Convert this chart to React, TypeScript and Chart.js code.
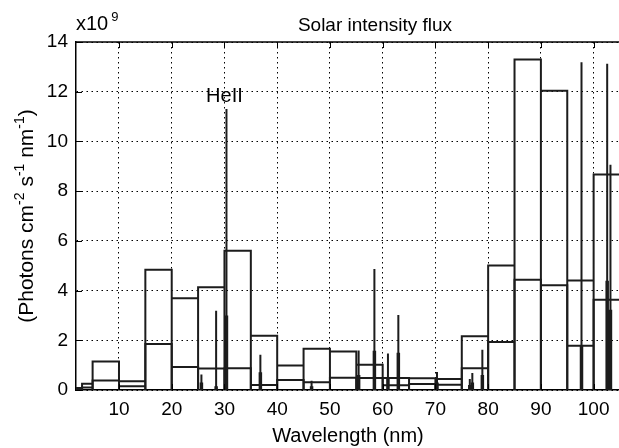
import React, { useEffect, useRef } from "react";
import { Chart, registerables } from "chart.js";

Chart.register(...registerables);

// 5 nm bins (plus two short X-ray bins)
const binLo = [0, 3, 5, 10, 15, 20, 25, 30, 35, 40, 45, 50, 55, 60, 65, 70, 75, 80, 85, 90, 95, 100];
const binHi = [3, 5, 10, 15, 20, 25, 30, 35, 40, 45, 50, 55, 60, 65, 70, 75, 80, 85, 90, 95, 100, 105];
// flux (x1e9 photons cm^-2 s^-1 nm^-1), high and low solar activity
const fluxMax = [0.08, 0.25, 1.15, 0.35, 4.84, 3.69, 4.13, 5.6, 2.18, 0.99, 1.66, 1.55, 1.02, 0.48, 0.47, 0.44, 2.16, 5.01, 13.3, 12.04, 4.41, 8.67];
const fluxMin = [0.03, 0.1, 0.38, 0.15, 1.85, 0.93, 0.86, 0.88, 0.2, 0.4, 0.31, 0.49, 0.48, 0.19, 0.24, 0.21, 0.87, 1.93, 4.44, 4.21, 1.78, 3.63];

// emission lines
const lineNm = [25.63, 28.42, 30.38, 36.81, 46.52, 55.44, 58.43, 61.0, 62.97, 70.3, 76.52, 77.0, 78.9, 97.7, 102.57, 103.19];
const lineMax = [0.62, 3.19, 11.3, 1.42, 0.37, 1.59, 4.87, 1.47, 3.02, 0.72, 0.44, 0.68, 1.62, 13.19, 13.12, 9.06];
const lineMin = [0.3, 0.15, 3.0, 0.71, 0.15, 0.6, 1.58, 0.5, 1.5, 0.3, 0.2, 0.3, 0.6, 1.8, 4.4, 3.23];

const xTicks = [10, 20, 30, 40, 50, 60, 70, 80, 90, 100];
const yTicks = [0, 2, 4, 6, 8, 10, 12, 14];

const titleText = "Solar intensity flux";
const xLabelText = "Wavelength (nm)";
const heLabel = "HeII";
const heLabelNm = 30.38;
const heLabelVal = 11.3;

const FONT = "'Liberation Sans', Arial, Helvetica, sans-serif";
const INK = "#1c1c1c";

function binPath(vals: number[]) {
  const pts: { x: number; y: number | null }[] = [];
  for (let i = 0; i < vals.length; i++) {
    pts.push({ x: binLo[i], y: 0 }, { x: binLo[i], y: vals[i] }, { x: binHi[i], y: vals[i] }, { x: binHi[i], y: 0 });
  }
  return pts;
}

function linePath(vals: number[]) {
  const pts: { x: number; y: number | null }[] = [];
  for (let i = 0; i < vals.length; i++) {
    pts.push({ x: lineNm[i], y: 0 }, { x: lineNm[i], y: vals[i] }, { x: lineNm[i], y: null });
  }
  return pts;
}

const decorPlugin = {
  id: "decor",
  afterDatasetsDraw(chart: any) {
    const { ctx, chartArea } = chart;
    const xs = chart.scales.x;
    const ys = chart.scales.y;
    ctx.save();
    ctx.strokeStyle = "#000";
    ctx.lineWidth = 1.5;
    ctx.beginPath();
    ctx.moveTo(chartArea.left, chartArea.top);
    ctx.lineTo(chartArea.right, chartArea.top);
    ctx.stroke();
    ctx.lineWidth = 1;
    ctx.beginPath();
    for (const t of xTicks) {
      const px = Math.round(xs.getPixelForValue(t)) + 0.5;
      ctx.moveTo(px, chartArea.bottom);
      ctx.lineTo(px, chartArea.bottom - 6);
      ctx.moveTo(px, chartArea.top);
      ctx.lineTo(px, chartArea.top + 6);
    }
    for (const t of yTicks) {
      const py = Math.round(ys.getPixelForValue(t)) + 0.5;
      ctx.moveTo(chartArea.left, py);
      ctx.lineTo(chartArea.left + 6, py);
    }
    ctx.stroke();
    ctx.restore();
  },
  afterDraw(chart: any) {
    const { ctx, chartArea } = chart;
    const xs = chart.scales.x;
    const ys = chart.scales.y;
    ctx.save();
    ctx.fillStyle = "#000";
    ctx.textBaseline = "alphabetic";
    ctx.font = `19px ${FONT}`;
    ctx.textAlign = "center";
    ctx.fillText(titleText, 375, 31);
    ctx.font = `20px ${FONT}`;
    ctx.fillText(xLabelText, 348, 442);
    ctx.fillText(heLabel, xs.getPixelForValue(heLabelNm) - 2, ys.getPixelForValue(heLabelVal) - 7);
    ctx.textAlign = "left";
    ctx.font = `20px ${FONT}`;
    ctx.fillText("x10", chartArea.left, 30);
    const w = ctx.measureText("x10").width;
    ctx.font = `13px ${FONT}`;
    ctx.fillText("9", chartArea.left + w + 3, 21);
    const parts: [string, boolean][] = [
      ["(Photons cm", false],
      ["-2", true],
      [" s", false],
      ["-1", true],
      [" nm", false],
      ["-1", true],
      [")", false],
    ];
    const mainF = `21px ${FONT}`;
    const supF = `14px ${FONT}`;
    let total = 0;
    for (const [s, sup] of parts) {
      ctx.font = sup ? supF : mainF;
      total += ctx.measureText(s).width;
    }
    const cy = (chartArea.top + chartArea.bottom) / 2;
    ctx.translate(33, cy);
    ctx.rotate(-Math.PI / 2);
    let cx = -total / 2;
    for (const [s, sup] of parts) {
      ctx.font = sup ? supF : mainF;
      ctx.fillText(s, cx, sup ? -9 : 0);
      cx += ctx.measureText(s).width;
    }
    ctx.restore();
  },
};

export default function App() {
  const ref = useRef<HTMLCanvasElement | null>(null);

  useEffect(() => {
    if (!ref.current) return;
    const common = {
      showLine: true,
      pointRadius: 0,
      borderColor: INK,
      borderJoinStyle: "miter" as const,
      spanGaps: false,
    };
    const chart = new Chart(ref.current, {
      type: "scatter",
      data: {
        datasets: [
          { ...common, label: "max", data: binPath(fluxMax), borderWidth: 2 },
          { ...common, label: "min", data: binPath(fluxMin), borderWidth: 2 },
          { ...common, label: "lines max", data: linePath(lineMax), borderWidth: 2 },
          { ...common, label: "lines min", data: linePath(lineMin), borderWidth: 3.5 },
        ] as any,
      },
      options: {
        responsive: false,
        animation: false,
        devicePixelRatio: 1,
        events: [],
        layout: { padding: { top: 42, left: 0, right: 20, bottom: 0 } },
        plugins: { legend: { display: false }, tooltip: { enabled: false }, title: { display: false } },
        scales: {
          x: {
            type: "linear",
            min: 1.85,
            max: 105,
            afterBuildTicks: (s: any) => {
              s.ticks = xTicks.map((v) => ({ value: v }));
            },
            afterFit: (s: any) => {
              s.height = 58;
            },
            ticks: { color: "#000", font: { family: FONT, size: 19 }, padding: 8, maxRotation: 0, autoSkip: false },
            grid: { color: "#000", lineWidth: 1, drawTicks: false },
            border: { display: true, color: "#000", width: 1.5, dash: [1.5, 3.5] },
          },
          y: {
            type: "linear",
            min: 0,
            max: 14,
            afterBuildTicks: (s: any) => {
              s.ticks = yTicks.map((v) => ({ value: v }));
            },
            afterFit: (s: any) => {
              s.width = 76;
            },
            ticks: { color: "#000", font: { family: FONT, size: 19 }, padding: 8, autoSkip: false },
            grid: { color: "#000", lineWidth: 1, drawTicks: false },
            border: { display: true, color: "#000", width: 1.5, dash: [1.5, 3.5] },
          },
        },
      },
      plugins: [decorPlugin],
    } as any);
    return () => chart.destroy();
  }, []);

  return (
    <div
      style={{
        position: "absolute",
        left: 0,
        top: 0,
        width: 619,
        height: 448,
        overflow: "hidden",
        background: "#fff",
      }}
    >
      <canvas ref={ref} width={640} height={448} style={{ display: "block", width: 640, height: 448 }} />
    </div>
  );
}
